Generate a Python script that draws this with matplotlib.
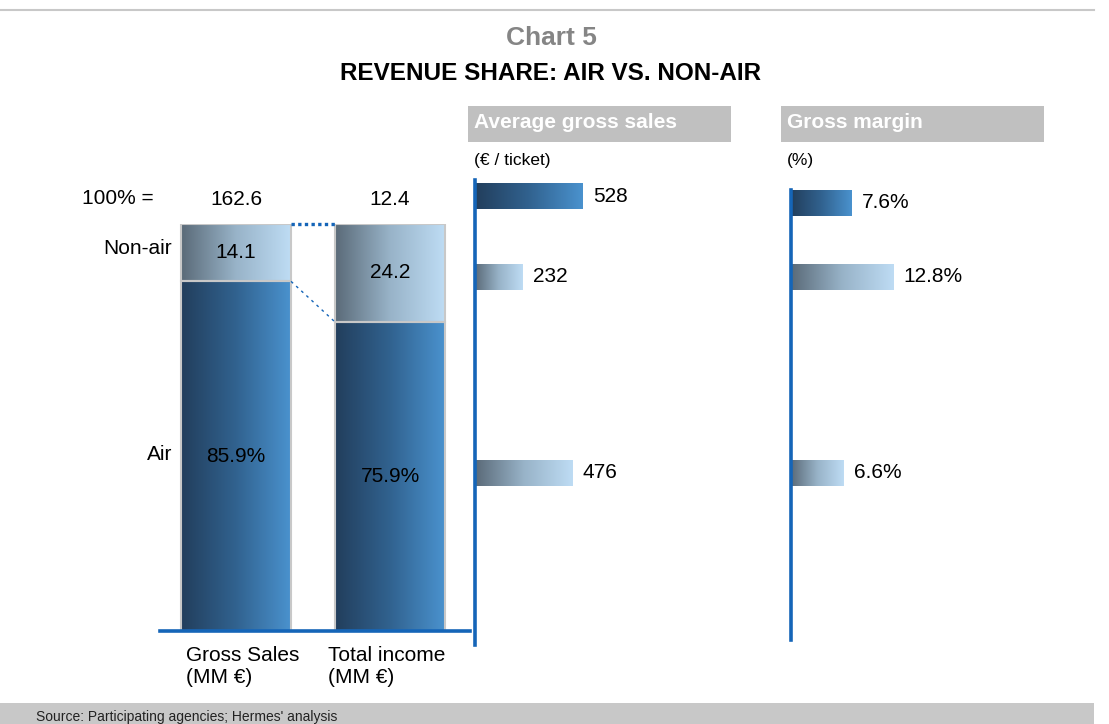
import numpy as np
import matplotlib
matplotlib.use("Agg")
import matplotlib.pyplot as plt
from matplotlib.colors import LinearSegmentedColormap
from matplotlib.patches import Rectangle

plt.rcParams["font.family"] = ["Liberation Sans", "DejaVu Sans"]

# data
bar_labels = ["Gross Sales\n(MM €)", "Total income\n(MM €)"]
totals = ["162.6", "12.4"]
air_share = [85.9, 75.9]
nonair_share = [14.1, 24.2]

avg_sales = [528, 232, 476]          # total, non-air, air  (€ / ticket)
gross_margin = [7.6, 12.8, 6.6]      # total, non-air, air  (%)
row_style = ["dark", "light", "light"]

W, H = 1109, 724
BLUE = "#1565b8"

dark_cmap = LinearSegmentedColormap.from_list("dark", ["#223e5c", "#31628f", "#4a92ce"])
light_cmap = LinearSegmentedColormap.from_list("light", ["#5a6a78", "#98b3c8", "#bedcf4"])
cmaps = {"dark": dark_cmap, "light": light_cmap}
grad = np.linspace(0, 1, 256).reshape(1, -1)

fig = plt.figure(figsize=(W / 100, H / 100), dpi=100)


def px_axes(x0, y0, x1, y1):
    a = fig.add_axes([x0 / W, 1 - y1 / H, (x1 - x0) / W, (y1 - y0) / H])
    a.set_facecolor("none")
    a.axis("off")
    return a


def fill_gradient(ax, patch, cmap, z=1):
    x, y = patch.get_xy()
    w, h = patch.get_width(), patch.get_height()
    ax.imshow(grad, extent=[x, x + w, y, y + h], cmap=cmap, aspect="auto",
              zorder=z, interpolation="bilinear")


# background / frame in pixel coordinates
bg = px_axes(0, 0, W, H)
bg.set_xlim(0, W)
bg.set_ylim(H, 0)
bg.plot([0, 1094], [10, 10], color="#c8c8c8", lw=1.5)
bg.add_patch(Rectangle((0, 703), 1094, 21, color="#c8c8c8", lw=0))
bg.text(36, 717, "Source: Participating agencies; Hermes' analysis", fontsize=10,
        va="center", ha="left", color="#222222")
bg.text(551, 38, "Chart 5", fontsize=19, fontweight="bold", color="#858585",
        ha="center", va="center")
bg.text(551, 74, "REVENUE SHARE: AIR VS. NON-AIR", fontsize=17.5,
        fontweight="bold", ha="center", va="center")

for x0, title, unit in [(468, "Average gross sales", "(€ / ticket)"),
                        (781, "Gross margin", "(%)")]:
    bg.add_patch(Rectangle((x0, 106), 263, 36, color="#c0c0c0", lw=0))
    bg.text(x0 + 6, 123, title, fontsize=15, fontweight="bold", color="white",
            ha="left", va="center")
    bg.text(x0 + 6, 160, unit, fontsize=12.5, ha="left", va="center")

bg.text(118, 199, "100% =", fontsize=15, ha="center", va="center")
bg.text(172, 248, "Non-air", fontsize=15, ha="right", va="center")
bg.text(172, 455, "Air", fontsize=15, ha="right", va="center")

# left: stacked 100% bars
ax = px_axes(160, 224, 470, 631)
bw = 0.714
xs = np.arange(len(air_share))
label_dx = [0.04, -0.02]
air_bars = ax.bar(xs, air_share, width=bw, color="none", edgecolor="#c8c8c8",
                  lw=1.5, zorder=3)
non_bars = ax.bar(xs, nonair_share, bottom=air_share, width=bw, color="none",
                  edgecolor="#c8c8c8", lw=1.5, zorder=3)
for p in air_bars:
    fill_gradient(ax, p, dark_cmap)
for p in non_bars:
    fill_gradient(ax, p, light_cmap)
ax.set_xlim(-0.494, 1.519)
ax.set_ylim(0, 100)

for i in xs:
    ax.text(i, air_share[i] / 2, f"{air_share[i]}%", fontsize=15,
            ha="center", va="center", zorder=4)
    ax.text(i, air_share[i] + nonair_share[i] / 2, f"{nonair_share[i]}",
            fontsize=15, ha="center", va="center", zorder=4)
    ax.text(i, 106.1, totals[i], fontsize=15, ha="center", va="center",
            clip_on=False)
    ax.text(i + label_dx[i], -3.8, bar_labels[i], fontsize=15, ha="center",
            multialignment="left", va="top", clip_on=False)

ax.plot([bw / 2, 1 - bw / 2], [100, 100], color=BLUE, lw=2.4,
        ls=(0, (1, 1)), clip_on=False, zorder=4)
ax.plot([bw / 2, 1 - bw / 2], [air_share[0], air_share[1]], color=BLUE, lw=1,
        ls=(0, (2, 3)), clip_on=False, zorder=4)
ax.plot([-0.494, 1.519], [0, 0], color=BLUE, lw=2.6, clip_on=False, zorder=5)

# middle and right: horizontal bars


def hbar_panel(x0, y0, x1, y1, values, xmax, rows, fmt):
    a = px_axes(x0, y0, x1, y1)
    bars = a.barh(rows, values, height=26, color="none", lw=0, zorder=3)
    for p, st in zip(bars, row_style):
        fill_gradient(a, p, cmaps[st])
    a.set_xlim(0, xmax)
    a.set_ylim(y1, y0)
    a.axvline(0, color=BLUE, lw=2.6, zorder=5, clip_on=False)
    for r, v in zip(rows, values):
        a.annotate(fmt.format(v), (v, r), xytext=(7.5, 0),
                   textcoords="offset points", fontsize=15, ha="left",
                   va="center")
    return a


hbar_panel(475, 180, 731, 645, avg_sales, 256 / 0.2045, [196, 277, 473], "{}")
hbar_panel(791, 190, 1044, 640, gross_margin, 253 / 7.97, [203, 277, 473], "{}%")

fig.savefig("out.png", dpi=100)
